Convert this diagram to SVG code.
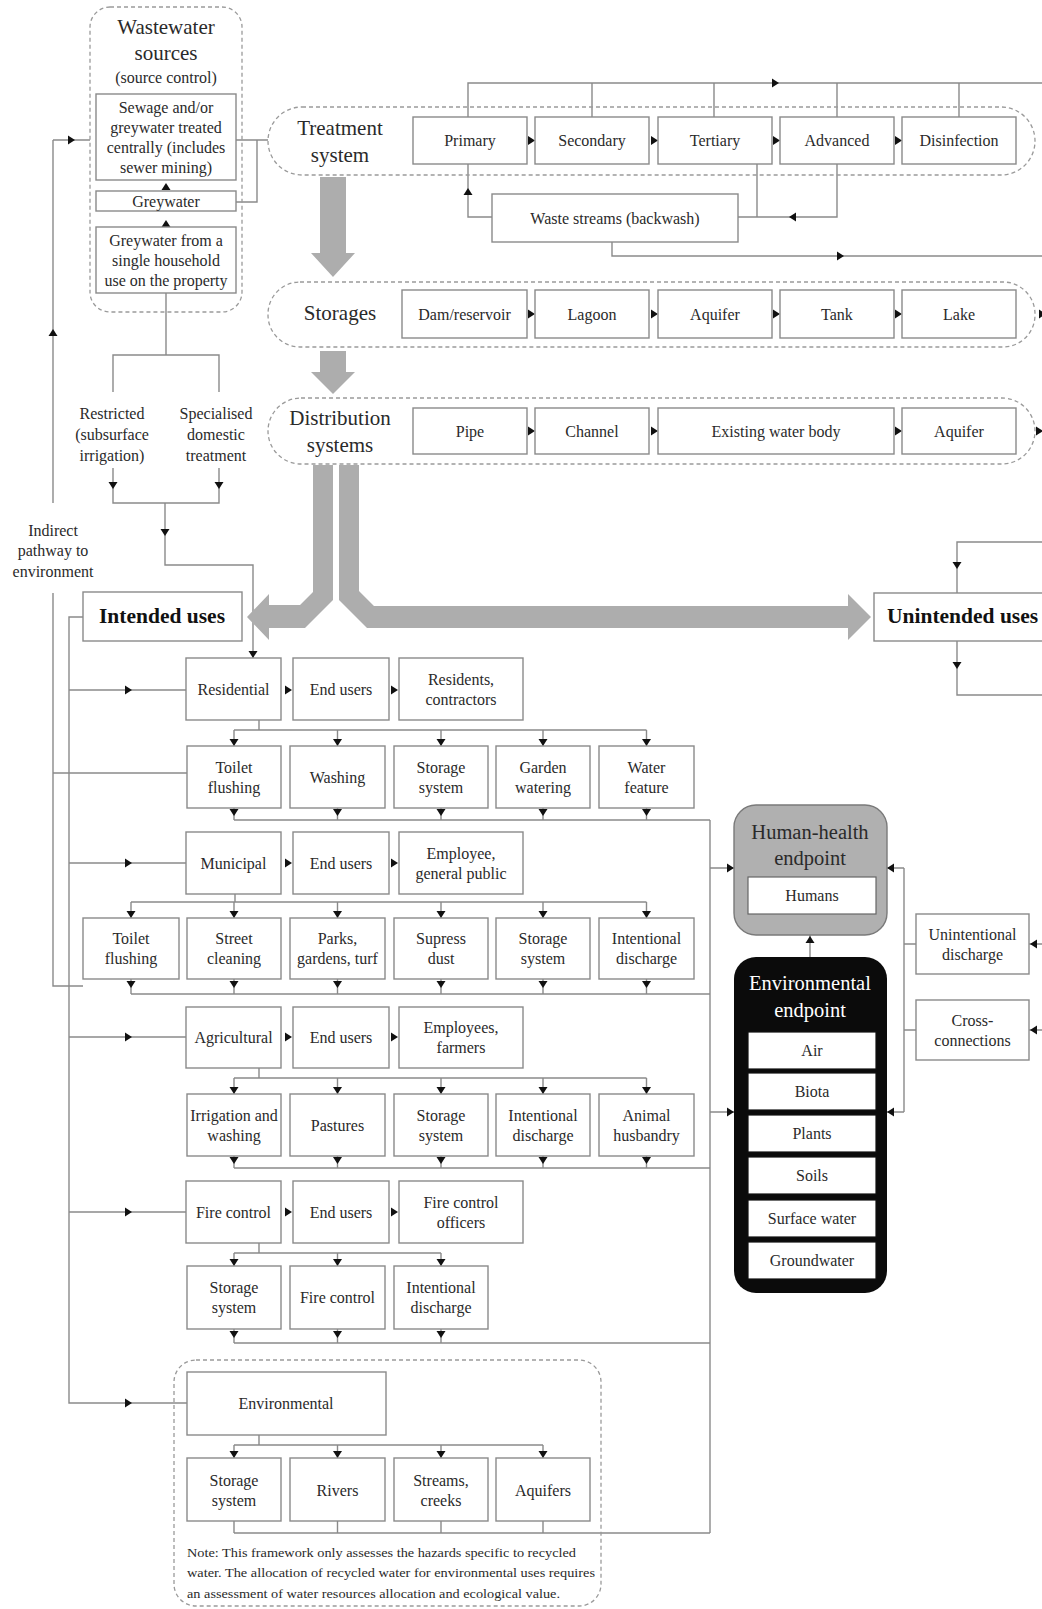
<svg xmlns="http://www.w3.org/2000/svg" xmlns:xlink="http://www.w3.org/1999/xlink" width="1042" height="1609" viewBox="0 0 1042 1609">
<defs>
<style>
.box{fill:#fff;stroke:#8a8a8a;stroke-width:1.4}
.dash{fill:none;stroke:#9a9a9a;stroke-width:1.3;stroke-dasharray:4 3}
.ln{fill:none;stroke:#8a8a8a;stroke-width:1.4}
.t{font-family:"Liberation Serif","Times New Roman",serif;font-size:16px;fill:#2a2a2a;text-anchor:middle;dominant-baseline:central}
.h{font-size:21px}
.b{font-weight:bold;font-size:21.5px;fill:#111}
.w{fill:#fff}
.big{fill:#adadad}
.ah{fill:#111}
.note{font-size:12.5px;text-anchor:start}
.ibox{fill:#fff;stroke:#111;stroke-width:1.2}
</style>
<path id="aR" class="ah" d="M0,0 L-7,-4.5 L-7,4.5Z"/>
<path id="aL" class="ah" d="M0,0 L7,-4.5 L7,4.5Z"/>
<path id="aU" class="ah" d="M0,0 L-4.5,7 L4.5,7Z"/>
<path id="aD" class="ah" d="M0,0 L-4.5,-7 L4.5,-7Z"/>
</defs>
<rect width="1042" height="1609" fill="#fff"/>

<g id="connectors">
<path class="ln" d="M53,140 H90 M53,140 V503 M53,593 V986 H83 M53,773 H187"/>
<path class="ln" d="M166,293 V355 M113,392 V355 H219 V392 M113,468 V503 H219 V468 M165,503 V565 H253 V658"/>
<path class="ln" d="M236,140 H268 M257,140 V202 H236"/>
<path class="ln" d="M468,117 V83 H1042 M592,83 V117 M714,83 V117 M837,83 V117 M959,83 V117"/>
<path class="ln" d="M468,164 V217 H492 M757,164 V217 M738,217 H837 V164 M612,242 V256 H1042"/>
<path class="ln" d="M83,617 H69 V1403 H187 M69,690 H186 M69,863 H186 M69,1037 H186 M69,1212 H186"/>
<path class="ln" d="M259,720 V730 M234,730 H646.5 M234,730 V746 M337.5,730 V746 M441,730 V746 M543,730 V746 M646.5,730 V746 M234,808 V820 M337.5,808 V820 M441,808 V820 M543,808 V820 M646.5,808 V820 M234,820 H710"/>
<path class="ln" d="M235,894 V902 M131,902 H646.5 M131,902 V918 M234,902 V918 M337.5,902 V918 M441,902 V918 M543,902 V918 M646.5,902 V918 M131,979 V994 M234,979 V994 M337.5,979 V994 M441,979 V994 M543,979 V994 M646.5,979 V994 M131,994 H710"/>
<path class="ln" d="M259,1068 V1078 M234,1078 H646.5 M234,1078 V1094 M337.5,1078 V1094 M441,1078 V1094 M543,1078 V1094 M646.5,1078 V1094 M234,1156 V1168 M337.5,1156 V1168 M441,1156 V1168 M543,1156 V1168 M646.5,1156 V1168 M234,1168 H710"/>
<path class="ln" d="M259,1243 V1253 M234,1253 H441 M234,1253 V1266 M337.5,1253 V1266 M441,1253 V1266 M234,1329 V1343 M337.5,1329 V1343 M441,1329 V1343 M234,1343 H710"/>
<path class="ln" d="M259,1435 V1445 M234,1445 H543 M234,1445 V1458 M337.5,1445 V1458 M441,1445 V1458 M543,1445 V1458 M234,1521 V1533 M337.5,1521 V1533 M441,1521 V1533 M543,1521 V1533 M234,1533 H710"/>
<path class="ln" d="M710,820 V1533 M710,868 H734 M710,1112 H734 M810,957 V935"/>
<path class="ln" d="M904,868 V1112 M904,868 H887 M904,1112 H887 M904,944 H916 M904,1030 H916 M1042,944 H1029 M1042,1030 H1029"/>
<path class="ln" d="M957,593 V542 H1042 M957,641 V695 H1042"/>

<use xlink:href="#aR" x="75" y="140"/>
<use xlink:href="#aU" x="53" y="329"/>
<use xlink:href="#aU" x="166" y="183"/>
<use xlink:href="#aU" x="166" y="220"/>
<use xlink:href="#aD" x="113" y="489"/>
<use xlink:href="#aD" x="219" y="489"/>
<use xlink:href="#aD" x="165" y="536"/>
<use xlink:href="#aD" x="253" y="658"/>

<use xlink:href="#aR" x="535" y="140.5"/><use xlink:href="#aR" x="658" y="140.5"/><use xlink:href="#aR" x="780" y="140.5"/><use xlink:href="#aR" x="902" y="140.5"/>
<use xlink:href="#aR" x="535" y="314"/><use xlink:href="#aR" x="658" y="314"/><use xlink:href="#aR" x="780" y="314"/><use xlink:href="#aR" x="902" y="314"/><use xlink:href="#aR" x="1046" y="314"/>
<use xlink:href="#aR" x="535" y="431"/><use xlink:href="#aR" x="658" y="431"/><use xlink:href="#aR" x="902" y="431"/><use xlink:href="#aR" x="1043" y="431"/>
<use xlink:href="#aR" x="779" y="83"/>
<use xlink:href="#aU" x="468" y="188"/>
<use xlink:href="#aL" x="789" y="217"/>
<use xlink:href="#aR" x="844" y="256"/>

<use xlink:href="#aR" x="132" y="690"/><use xlink:href="#aR" x="292" y="690"/><use xlink:href="#aR" x="398" y="690"/>
<use xlink:href="#aR" x="132" y="863"/><use xlink:href="#aR" x="292" y="863"/><use xlink:href="#aR" x="398" y="863"/>
<use xlink:href="#aR" x="132" y="1037"/><use xlink:href="#aR" x="292" y="1037"/><use xlink:href="#aR" x="398" y="1037"/>
<use xlink:href="#aR" x="132" y="1212"/><use xlink:href="#aR" x="292" y="1212"/><use xlink:href="#aR" x="398" y="1212"/>
<use xlink:href="#aR" x="132" y="1403"/>

<use xlink:href="#aD" x="234" y="746"/><use xlink:href="#aD" x="337.5" y="746"/><use xlink:href="#aD" x="441" y="746"/><use xlink:href="#aD" x="543" y="746"/><use xlink:href="#aD" x="646.5" y="746"/>
<use xlink:href="#aD" x="234" y="816"/><use xlink:href="#aD" x="337.5" y="816"/><use xlink:href="#aD" x="441" y="816"/><use xlink:href="#aD" x="543" y="816"/><use xlink:href="#aD" x="646.5" y="816"/>

<use xlink:href="#aD" x="131" y="918"/><use xlink:href="#aD" x="234" y="918"/><use xlink:href="#aD" x="337.5" y="918"/><use xlink:href="#aD" x="441" y="918"/><use xlink:href="#aD" x="543" y="918"/><use xlink:href="#aD" x="646.5" y="918"/>
<use xlink:href="#aD" x="131" y="988"/><use xlink:href="#aD" x="234" y="988"/><use xlink:href="#aD" x="337.5" y="988"/><use xlink:href="#aD" x="441" y="988"/><use xlink:href="#aD" x="543" y="988"/><use xlink:href="#aD" x="646.5" y="988"/>

<use xlink:href="#aD" x="234" y="1094"/><use xlink:href="#aD" x="337.5" y="1094"/><use xlink:href="#aD" x="441" y="1094"/><use xlink:href="#aD" x="543" y="1094"/><use xlink:href="#aD" x="646.5" y="1094"/>
<use xlink:href="#aD" x="234" y="1164"/><use xlink:href="#aD" x="337.5" y="1164"/><use xlink:href="#aD" x="441" y="1164"/><use xlink:href="#aD" x="543" y="1164"/><use xlink:href="#aD" x="646.5" y="1164"/>

<use xlink:href="#aD" x="234" y="1266"/><use xlink:href="#aD" x="337.5" y="1266"/><use xlink:href="#aD" x="441" y="1266"/>
<use xlink:href="#aD" x="234" y="1338"/><use xlink:href="#aD" x="337.5" y="1338"/><use xlink:href="#aD" x="441" y="1338"/>

<use xlink:href="#aD" x="234" y="1458"/><use xlink:href="#aD" x="337.5" y="1458"/><use xlink:href="#aD" x="441" y="1458"/><use xlink:href="#aD" x="543" y="1458"/>

<use xlink:href="#aR" x="734" y="868"/><use xlink:href="#aR" x="734" y="1112"/>
<use xlink:href="#aL" x="887" y="868"/><use xlink:href="#aL" x="887" y="1112"/>
<use xlink:href="#aU" x="810" y="936"/>
<use xlink:href="#aL" x="1030" y="944"/><use xlink:href="#aL" x="1030" y="1030"/>
<use xlink:href="#aD" x="957" y="569"/><use xlink:href="#aD" x="957" y="669"/>

<polygon class="big" points="320,177 346,177 346,253 355,253 333,277 311,253 320,253"/>
<polygon class="big" points="320,351 346,351 346,372 355,372 333,394 311,372 320,372"/>
<polygon class="big" points="313,465 313,592 300,605 269,605 269,594 247,617 269,640 269,628 305,628 333,600 333,465"/>
<polygon class="big" points="339,465 339,600 367,628 848,628 848,640 871,617 848,594 848,606 374,606 359,591 359,465"/>
</g>

<g id="wastewater-sources">
<rect class="dash" x="90" y="7" width="152" height="305" rx="20"/>
<text class="t h" x="166" y="27">Wastewater</text>
<text class="t h" x="166" y="53">sources</text>
<text class="t" x="166" y="77">(source control)</text>
</g>
<g id="sewage-central">
<rect class="box" x="96" y="94" width="140" height="86"/>
<text class="t" x="166" y="107">Sewage and/or</text>
<text class="t" x="166" y="127">greywater treated</text>
<text class="t" x="166" y="147">centrally (includes</text>
<text class="t" x="166" y="167">sewer mining)</text>
</g>
<g id="greywater">
<rect class="box" x="96" y="191" width="140" height="20"/>
<text class="t" x="166" y="201">Greywater</text>
</g>
<g id="greywater-single">
<rect class="box" x="96" y="227" width="140" height="66"/>
<text class="t" x="166" y="240">Greywater from a</text>
<text class="t" x="166" y="260">single household</text>
<text class="t" x="166" y="280">use on the property</text>
</g>
<g id="restricted">
<text class="t" x="112" y="413">Restricted</text>
<text class="t" x="112" y="434">(subsurface</text>
<text class="t" x="112" y="455">irrigation)</text>
</g>
<g id="specialised">
<text class="t" x="216" y="413">Specialised</text>
<text class="t" x="216" y="434">domestic</text>
<text class="t" x="216" y="455">treatment</text>
</g>
<g id="indirect-pathway">
<text class="t" x="53" y="530">Indirect</text>
<text class="t" x="53" y="550">pathway to</text>
<text class="t" x="53" y="571">environment</text>
</g>

<g id="treatment-system">
<rect class="dash" x="268" y="107" width="767" height="68" rx="34"/>
<text class="t h" x="340" y="128">Treatment</text>
<text class="t h" x="340" y="155">system</text>
</g>
<g id="primary"><rect class="box" x="413" y="117" width="114" height="47"/><text class="t" x="470" y="140.5">Primary</text></g>
<g id="secondary"><rect class="box" x="535" y="117" width="114" height="47"/><text class="t" x="592" y="140.5">Secondary</text></g>
<g id="tertiary"><rect class="box" x="658" y="117" width="114" height="47"/><text class="t" x="715" y="140.5">Tertiary</text></g>
<g id="advanced"><rect class="box" x="780" y="117" width="114" height="47"/><text class="t" x="837" y="140.5">Advanced</text></g>
<g id="disinfection"><rect class="box" x="902" y="117" width="114" height="47"/><text class="t" x="959" y="140.5">Disinfection</text></g>
<g id="waste-streams"><rect class="box" x="492" y="194" width="246" height="48"/><text class="t" x="615" y="218">Waste streams (backwash)</text></g>

<g id="storages">
<rect class="dash" x="268" y="282" width="767" height="65" rx="32"/>
<text class="t h" x="340" y="313">Storages</text>
</g>
<g id="dam"><rect class="box" x="402" y="290" width="125" height="48"/><text class="t" x="464.5" y="314">Dam/reservoir</text></g>
<g id="lagoon"><rect class="box" x="535" y="290" width="114" height="48"/><text class="t" x="592" y="314">Lagoon</text></g>
<g id="aquifer-s"><rect class="box" x="658" y="290" width="114" height="48"/><text class="t" x="715" y="314">Aquifer</text></g>
<g id="tank"><rect class="box" x="780" y="290" width="114" height="48"/><text class="t" x="837" y="314">Tank</text></g>
<g id="lake"><rect class="box" x="902" y="290" width="114" height="48"/><text class="t" x="959" y="314">Lake</text></g>

<g id="distribution">
<rect class="dash" x="268" y="398" width="767" height="66" rx="33"/>
<text class="t h" x="340" y="418">Distribution</text>
<text class="t h" x="340" y="445">systems</text>
</g>
<g id="pipe"><rect class="box" x="413" y="408" width="114" height="46"/><text class="t" x="470" y="431">Pipe</text></g>
<g id="channel"><rect class="box" x="535" y="408" width="114" height="46"/><text class="t" x="592" y="431">Channel</text></g>
<g id="existing"><rect class="box" x="658" y="408" width="236" height="46"/><text class="t" x="776" y="431">Existing water body</text></g>
<g id="aquifer-d"><rect class="box" x="902" y="408" width="114" height="46"/><text class="t" x="959" y="431">Aquifer</text></g>

<g id="intended-uses"><rect class="box" x="83" y="592" width="159" height="49"/><text class="t b" x="162" y="616">Intended uses</text></g>
<g id="unintended-uses"><rect class="box" x="874" y="593" width="200" height="48"/><text class="t b" x="887" y="616" style="text-anchor:start">Unintended uses</text></g>

<g id="residential"><rect class="box" x="186" y="658" width="95" height="62"/><text class="t" x="233.5" y="689">Residential</text></g>
<g id="res-endusers"><rect class="box" x="293" y="658" width="96" height="62"/><text class="t" x="341" y="689">End users</text></g>
<g id="res-residents"><rect class="box" x="399" y="658" width="124" height="62"/><text class="t" x="461" y="679">Residents,</text><text class="t" x="461" y="699">contractors</text></g>
<g id="res-toilet"><rect class="box" x="187" y="746" width="94" height="62"/><text class="t" x="234" y="767">Toilet</text><text class="t" x="234" y="787">flushing</text></g>
<g id="res-washing"><rect class="box" x="290" y="746" width="95" height="62"/><text class="t" x="337.5" y="777">Washing</text></g>
<g id="res-storage"><rect class="box" x="394" y="746" width="94" height="62"/><text class="t" x="441" y="767">Storage</text><text class="t" x="441" y="787">system</text></g>
<g id="res-garden"><rect class="box" x="496" y="746" width="94" height="62"/><text class="t" x="543" y="767">Garden</text><text class="t" x="543" y="787">watering</text></g>
<g id="res-feature"><rect class="box" x="599" y="746" width="95" height="62"/><text class="t" x="646.5" y="767">Water</text><text class="t" x="646.5" y="787">feature</text></g>

<g id="municipal"><rect class="box" x="186" y="832" width="95" height="62"/><text class="t" x="233.5" y="863">Municipal</text></g>
<g id="mun-endusers"><rect class="box" x="293" y="832" width="96" height="62"/><text class="t" x="341" y="863">End users</text></g>
<g id="mun-public"><rect class="box" x="399" y="832" width="124" height="62"/><text class="t" x="461" y="853">Employee,</text><text class="t" x="461" y="873">general public</text></g>
<g id="mun-toilet"><rect class="box" x="83" y="918" width="96" height="61"/><text class="t" x="131" y="938">Toilet</text><text class="t" x="131" y="958">flushing</text></g>
<g id="mun-street"><rect class="box" x="187" y="918" width="94" height="61"/><text class="t" x="234" y="938">Street</text><text class="t" x="234" y="958">cleaning</text></g>
<g id="mun-parks"><rect class="box" x="290" y="918" width="95" height="61"/><text class="t" x="337.5" y="938">Parks,</text><text class="t" x="337.5" y="958">gardens, turf</text></g>
<g id="mun-dust"><rect class="box" x="394" y="918" width="94" height="61"/><text class="t" x="441" y="938">Supress</text><text class="t" x="441" y="958">dust</text></g>
<g id="mun-storage"><rect class="box" x="496" y="918" width="94" height="61"/><text class="t" x="543" y="938">Storage</text><text class="t" x="543" y="958">system</text></g>
<g id="mun-discharge"><rect class="box" x="599" y="918" width="95" height="61"/><text class="t" x="646.5" y="938">Intentional</text><text class="t" x="646.5" y="958">discharge</text></g>

<g id="agricultural"><rect class="box" x="186" y="1007" width="95" height="61"/><text class="t" x="233.5" y="1037">Agricultural</text></g>
<g id="agr-endusers"><rect class="box" x="293" y="1007" width="96" height="61"/><text class="t" x="341" y="1037">End users</text></g>
<g id="agr-farmers"><rect class="box" x="399" y="1007" width="124" height="61"/><text class="t" x="461" y="1027">Employees,</text><text class="t" x="461" y="1047">farmers</text></g>
<g id="agr-irrigation"><rect class="box" x="187" y="1094" width="94" height="62"/><text class="t" x="234" y="1115">Irrigation and</text><text class="t" x="234" y="1135">washing</text></g>
<g id="agr-pastures"><rect class="box" x="290" y="1094" width="95" height="62"/><text class="t" x="337.5" y="1125">Pastures</text></g>
<g id="agr-storage"><rect class="box" x="394" y="1094" width="94" height="62"/><text class="t" x="441" y="1115">Storage</text><text class="t" x="441" y="1135">system</text></g>
<g id="agr-discharge"><rect class="box" x="496" y="1094" width="94" height="62"/><text class="t" x="543" y="1115">Intentional</text><text class="t" x="543" y="1135">discharge</text></g>
<g id="agr-animal"><rect class="box" x="599" y="1094" width="95" height="62"/><text class="t" x="646.5" y="1115">Animal</text><text class="t" x="646.5" y="1135">husbandry</text></g>

<g id="fire-control"><rect class="box" x="186" y="1181" width="95" height="62"/><text class="t" x="233.5" y="1212">Fire control</text></g>
<g id="fire-endusers"><rect class="box" x="293" y="1181" width="96" height="62"/><text class="t" x="341" y="1212">End users</text></g>
<g id="fire-officers"><rect class="box" x="399" y="1181" width="124" height="62"/><text class="t" x="461" y="1202">Fire control</text><text class="t" x="461" y="1222">officers</text></g>
<g id="fire-storage"><rect class="box" x="187" y="1266" width="94" height="63"/><text class="t" x="234" y="1287">Storage</text><text class="t" x="234" y="1307">system</text></g>
<g id="fire-fire"><rect class="box" x="290" y="1266" width="95" height="63"/><text class="t" x="337.5" y="1297">Fire control</text></g>
<g id="fire-discharge"><rect class="box" x="394" y="1266" width="94" height="63"/><text class="t" x="441" y="1287">Intentional</text><text class="t" x="441" y="1307">discharge</text></g>

<g id="environmental-group">
<rect class="dash" x="174" y="1360" width="427" height="246" rx="22"/>
<text class="t note" x="187" y="1553" textLength="389" lengthAdjust="spacingAndGlyphs">Note: This framework only assesses the hazards specific to recycled</text>
<text class="t note" x="187" y="1573" textLength="408" lengthAdjust="spacingAndGlyphs">water. The allocation of recycled water for environmental uses requires</text>
<text class="t note" x="187" y="1594" textLength="373" lengthAdjust="spacingAndGlyphs">an assessment of water resources allocation and ecological value.</text>
</g>
<g id="environmental"><rect class="box" x="187" y="1372" width="199" height="63"/><text class="t" x="286" y="1403">Environmental</text></g>
<g id="env-storage"><rect class="box" x="187" y="1458" width="94" height="63"/><text class="t" x="234" y="1480">Storage</text><text class="t" x="234" y="1500">system</text></g>
<g id="env-rivers"><rect class="box" x="290" y="1458" width="95" height="63"/><text class="t" x="337.5" y="1490">Rivers</text></g>
<g id="env-streams"><rect class="box" x="394" y="1458" width="94" height="63"/><text class="t" x="441" y="1480">Streams,</text><text class="t" x="441" y="1500">creeks</text></g>
<g id="env-aquifers"><rect class="box" x="496" y="1458" width="94" height="63"/><text class="t" x="543" y="1490">Aquifers</text></g>

<g id="human-health">
<rect x="734" y="805" width="153" height="130" rx="22" fill="#b0b0b0" stroke="#7a7a7a" stroke-width="1.4"/>
<text class="t h" x="810" y="832" style="font-size:20.5px">Human-health</text>
<text class="t h" x="810" y="858" style="font-size:20.5px">endpoint</text>
<rect x="748" y="877" width="128" height="37" fill="#fff" stroke="#666" stroke-width="1.2"/>
<text class="t" x="812" y="895.5">Humans</text>
</g>
<g id="environmental-endpoint">
<rect x="734" y="957" width="153" height="336" rx="22" fill="#0b0b0b"/>
<text class="t h w" x="810" y="983" style="font-size:20.5px">Environmental</text>
<text class="t h w" x="810" y="1010" style="font-size:20.5px">endpoint</text>
<rect class="ibox" x="748" y="1032" width="128" height="37"/><text class="t" x="812" y="1050.5">Air</text>
<rect class="ibox" x="748" y="1073" width="128" height="37"/><text class="t" x="812" y="1091.5">Biota</text>
<rect class="ibox" x="748" y="1115" width="128" height="37"/><text class="t" x="812" y="1133.5">Plants</text>
<rect class="ibox" x="748" y="1157" width="128" height="37"/><text class="t" x="812" y="1175.5">Soils</text>
<rect class="ibox" x="748" y="1200" width="128" height="37"/><text class="t" x="812" y="1218.5">Surface water</text>
<rect class="ibox" x="748" y="1242" width="128" height="37"/><text class="t" x="812" y="1260.5">Groundwater</text>
</g>
<g id="unintentional-discharge"><rect class="box" x="916" y="914" width="113" height="60"/><text class="t" x="972.5" y="934">Unintentional</text><text class="t" x="972.5" y="954">discharge</text></g>
<g id="cross-connections"><rect class="box" x="916" y="1000" width="113" height="60"/><text class="t" x="972.5" y="1020">Cross-</text><text class="t" x="972.5" y="1040">connections</text></g>
</svg>
